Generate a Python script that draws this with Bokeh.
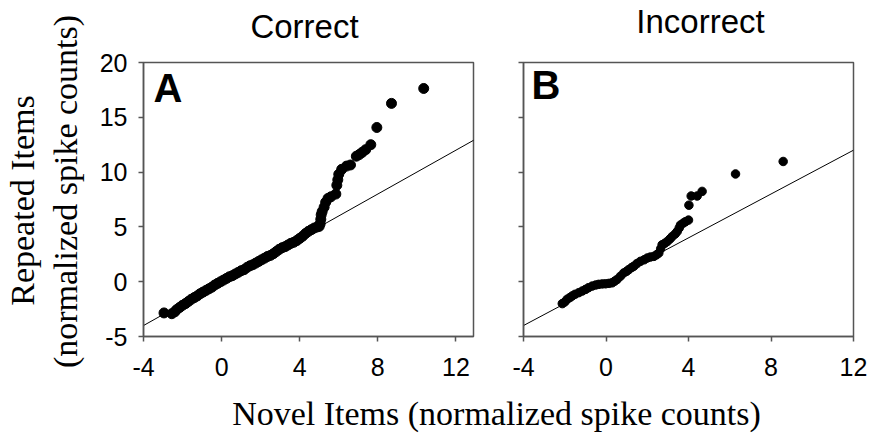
import math
from bokeh.plotting import figure
from bokeh.models import Label, Range1d
from bokeh.layouts import row, column
from bokeh.embed import file_html
from bokeh.resources import INLINE

SERIF = "Liberation Serif"
SANS = "Liberation Sans"

# ---------------- data ----------------
x_ticks = [-4, 0, 4, 8, 12]
y_ticks = [-5, 0, 5, 10, 15, 20]

panel_titles = ["Correct", "Incorrect"]
panel_letters = ["A", "B"]
y_label_lines = ["Repeated Items", "(normalized spike counts)"]
x_label = "Novel Items (normalized spike counts)"

# Panel A: Correct trials (quantile pairs)
correct_novel = [-2.95, -2.55, -2.4, -2.3, -2.15, -2.0, -1.85, -1.7, -1.55, -1.4,
                 -1.25, -1.1, -0.95, -0.8, -0.65, -0.5, -0.35, -0.2, -0.05, 0.1,
                 0.25, 0.4, 0.55, 0.7, 0.85, 1.0, 1.15, 1.3, 1.45, 1.6,
                 1.75, 1.9, 2.05, 2.2, 2.35, 2.5, 2.65, 2.8, 2.95, 3.1,
                 3.25, 3.4, 3.55, 3.7, 3.85, 4.0, 4.15, 4.3, 4.45, 4.6,
                 4.75, 4.9, 5.0, 5.05, 5.08, 5.1, 5.15, 5.25, 5.33, 5.45,
                 5.6, 5.85, 5.9, 5.95, 6.0, 6.15, 6.4, 6.6, 6.9, 7.05,
                 7.2, 7.38, 7.64, 7.95, 8.7, 10.35]
correct_repeated = [-2.85, -2.92, -2.75, -2.55, -2.35, -2.15, -2.0, -1.8, -1.6, -1.45,
                    -1.3, -1.1, -0.95, -0.8, -0.65, -0.5, -0.3, -0.15, 0.0, 0.15,
                    0.3, 0.45, 0.55, 0.7, 0.85, 1.0, 1.1, 1.3, 1.45, 1.55,
                    1.7, 1.85, 2.0, 2.15, 2.3, 2.4, 2.55, 2.75, 2.95, 3.1,
                    3.2, 3.35, 3.5, 3.6, 3.75, 3.95, 4.15, 4.4, 4.6, 4.75,
                    4.9, 5.0, 5.05, 5.3, 5.7, 6.1, 6.4, 6.8, 7.25, 7.6,
                    7.75, 8.0, 8.8, 9.3, 9.8, 10.25, 10.55, 10.65, 11.45, 11.6,
                    11.8, 12.05, 12.5, 14.07, 16.27, 17.63]

# Panel B: Incorrect trials (quantile pairs)
incorrect_novel = [-2.12, -2.0, -1.88, -1.75, -1.64, -1.5, -1.32, -1.15, -0.99, -0.85,
                   -0.67, -0.5, -0.35, -0.18, -0.02, 0.15, 0.3, 0.42, 0.54, 0.7,
                   0.86, 1.0, 1.11, 1.25, 1.35, 1.5, 1.67, 1.85, 2.0, 2.15,
                   2.32, 2.45, 2.56, 2.65, 2.72, 2.85, 2.97, 3.1, 3.21, 3.35,
                   3.45, 3.55, 3.61, 3.75, 3.85, 4.0, 4.02, 4.13, 4.42, 4.66,
                   6.28, 8.59]
incorrect_repeated = [-2.0, -1.85, -1.6, -1.45, -1.3, -1.15, -1.0, -0.85, -0.7, -0.55,
                      -0.4, -0.3, -0.24, -0.2, -0.19, -0.15, -0.1, 0.05, 0.21, 0.5,
                      0.8, 0.95, 1.11, 1.3, 1.41, 1.65, 1.86, 2.0, 2.16, 2.25,
                      2.31, 2.45, 2.61, 3.0, 3.37, 3.5, 3.67, 3.9, 4.12, 4.35,
                      4.57, 4.9, 5.17, 5.35, 5.47, 5.62, 6.98, 7.82, 7.82, 8.24,
                      9.83, 10.97]

# identity reference lines (y = x)
ref_a = [-4, 13]
ref_b = [-4, 12]

FRAME = "#555555"
W_TOTAL = 869
TOP_H = 45
ROW_H = 350
BOT_H = 43
LEFT_W = 90
FULL_H = TOP_H + ROW_H + BOT_H
RIGHT_W = W_TOTAL - LEFT_W
MID = 0.35  # baseline shift (em) of the rendered text anchor


def strip(width, height):
    s = figure(width=width, height=height, x_range=Range1d(0, width),
               y_range=Range1d(0, height), output_backend="svg",
               toolbar_location=None, min_border_left=0, min_border_right=0,
               min_border_top=0, min_border_bottom=0,
               x_axis_location=None, y_axis_location=None)
    s.grid.visible = False
    s.outline_line_color = None
    return s


def make_panel(width, xr, b_left, b_right, b_top, show_ylab):
    p = figure(width=width, height=ROW_H,
               x_range=Range1d(xr[0], xr[1]), y_range=Range1d(-5, 20),
               output_backend="svg", toolbar_location=None,
               min_border_left=b_left, min_border_right=b_right,
               min_border_top=b_top, min_border_bottom=ROW_H - b_top - 277)
    p.grid.visible = False
    p.outline_line_color = FRAME
    p.outline_line_width = 1.5
    for ax in (p.xaxis, p.yaxis):
        ax.axis_line_color = FRAME
        ax.axis_line_width = 1.5
        ax.major_tick_line_color = FRAME
        ax.major_tick_line_width = 1.5
        ax.major_tick_out = 5
        ax.major_tick_in = 0
        ax.minor_tick_line_color = None
        ax.major_label_text_font = SANS
        ax.major_label_text_font_size = "25px"
        ax.major_label_text_color = "black"
    p.xaxis.ticker = x_ticks
    p.yaxis.ticker = y_ticks
    p.xaxis.major_label_overrides = {t: str(t) for t in x_ticks}
    p.xaxis.major_label_standoff = 16
    p.yaxis.major_label_standoff = 11
    if show_ylab:
        p.yaxis.major_label_overrides = {t: str(t) for t in y_ticks}
    else:
        p.yaxis.major_label_overrides = {t: "" for t in y_ticks}
    return p


pA = make_panel(408, (-4, 12.9), 53, 25, 17, True)
pB = make_panel(RIGHT_W - 408, (-4, 12), 25, 16, 14, False)

pA.line(ref_a, ref_a, line_color="black", line_width=1)
pA.scatter(correct_novel, correct_repeated, size=10, color="black")
pB.line(ref_b, ref_b, line_color="black", line_width=1)
pB.scatter(incorrect_novel, incorrect_repeated, size=8.5, color="black")

# panel letters (inside frames); y units: 11.08 px per unit
pA.add_layout(Label(x=-3.49, y=16.39 + MID * 40 / 11.08, text=panel_letters[0],
                    text_align="left", text_baseline="alphabetic", text_font=SANS,
                    text_font_style="bold", text_font_size="40px", text_color="black"))
pB.add_layout(Label(x=-3.61, y=16.66 + MID * 40 / 11.08, text=panel_letters[1],
                    text_align="left", text_baseline="alphabetic", text_font=SANS,
                    text_font_style="bold", text_font_size="40px", text_color="black"))

# top strip with the panel titles (x measured from the left of the right column)
top = strip(RIGHT_W, TOP_H)
top.add_layout(Label(x=304 - LEFT_W, y=TOP_H - 38 + MID * 33, text=panel_titles[0],
                     text_align="center", text_baseline="alphabetic", text_font=SANS,
                     text_font_size="33px", text_color="black"))
top.add_layout(Label(x=700 - LEFT_W, y=TOP_H - 33 + MID * 33, text=panel_titles[1],
                     text_align="center", text_baseline="alphabetic", text_font=SANS,
                     text_font_size="33px", text_color="black"))

# left strip (full height) with the two-line y label
left = strip(LEFT_W, FULL_H)
left.add_layout(Label(x=34 - MID * 34, y=FULL_H - 200, text=y_label_lines[0],
                      angle=math.pi / 2, text_align="center", text_baseline="alphabetic",
                      text_font=SERIF, text_font_size="34px", text_color="black"))
left.add_layout(Label(x=77 - MID * 34, y=FULL_H - 191, text=y_label_lines[1],
                      angle=math.pi / 2, text_align="center", text_baseline="alphabetic",
                      text_font=SERIF, text_font_size="34px", text_color="black"))

# bottom strip with the shared x label
bot = strip(RIGHT_W, BOT_H)
bot.add_layout(Label(x=496 - LEFT_W, y=BOT_H - (425 - TOP_H - ROW_H) + MID * 34,
                     text=x_label, text_align="center", text_baseline="alphabetic",
                     text_font=SERIF, text_font_size="34px", text_color="black"))

layout = row(left, column(top, row(pA, pB), bot))
open("out.html", "w").write(file_html(layout, INLINE))
